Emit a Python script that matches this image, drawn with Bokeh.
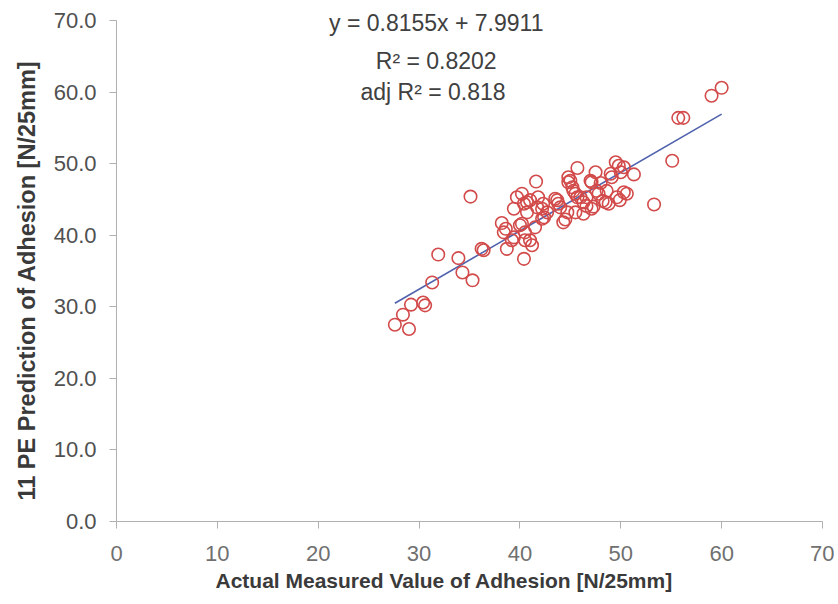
from bokeh.plotting import figure
from bokeh.models import Label, FixedTicker, NumeralTickFormatter, Range1d, Title
from bokeh.embed import file_html
from bokeh.resources import INLINE

# Data
measured = [27.6, 29.0, 28.4, 29.2, 30.4, 30.6, 31.3, 31.9, 33.9, 34.3, 35.3, 35.1,
            36.2, 36.4, 38.7, 38.2, 38.4, 39.4, 40.4, 40.5, 41.2, 41.5, 40.0, 39.4,
            40.2, 39.7, 40.7, 41.6, 41.7, 42.2, 42.4, 43.5, 43.8, 44.3, 44.5, 44.7,
            44.8, 45.0, 45.7, 45.2, 45.5, 45.7, 46.0, 46.3, 46.6, 45.5, 47.0, 47.5,
            47.1, 47.3, 47.8, 48.0, 48.6, 48.5, 49.0, 49.5, 49.8, 50.3, 50.0, 49.6,
            49.9, 50.6, 51.3, 53.3, 55.1, 55.7, 56.2, 59.0, 60.0,
            40.4, 41.0, 40.7, 41.8, 42.3, 42.7, 42.2, 44.0, 45.3, 46.6, 46.3, 47.6,
            48.2, 49.1, 50.3, 48.8, 38.6, 39.2, 40.2, 40.5, 41.0, 43.7, 44.8, 47.1]
predicted = [27.5, 26.9, 28.9, 30.3, 30.6, 30.2, 33.4, 37.3, 36.8, 34.8, 33.7, 45.4,
             38.1, 37.9, 38.1, 41.7, 40.4, 39.7, 36.7, 39.3, 38.6, 41.1, 41.4, 43.7,
             45.8, 45.3, 44.6, 47.5, 43.9, 43.7, 42.5, 45.1, 44.4, 41.8, 42.2, 43.2,
             48.1, 47.6, 49.4, 46.7, 45.8, 45.3, 45.3, 44.6, 44.1, 43.2, 47.6, 48.8,
             43.7, 44.0, 45.8, 47.3, 46.2, 44.6, 48.6, 50.2, 49.7, 49.5, 48.8, 45.3,
             44.9, 45.8, 48.5, 44.3, 50.4, 56.4, 56.4, 59.5, 60.6,
             44.4, 44.9, 43.2, 45.3, 44.4, 43.2, 42.3, 43.9, 46.2, 45.3, 43.0, 46.2,
             44.8, 48.1, 46.0, 44.4, 40.9, 39.3, 41.6, 40.4, 39.3, 44.9, 47.4, 47.4]

slope = 0.8155
intercept = 7.9911
eq_lines = ["y = 0.8155x + 7.9911", "R\u00b2 = 0.8202", "adj R\u00b2  = 0.818"]
x_ticks = [0, 10, 20, 30, 40, 50, 60, 70]
y_ticks = [0, 10, 20, 30, 40, 50, 60, 70]
x_label = "Actual Measured Value of Adhesion [N/25mm]"
y_label = "11 PE Prediction of Adhesion [N/25mm]"

p = figure(width=834, height=596, output_backend="svg", toolbar_location=None,
           x_range=Range1d(0, 70), y_range=Range1d(0, 72.8),
           min_border_left=116, min_border_right=12, min_border_top=0, min_border_bottom=75)
p.outline_line_color = None
p.grid.visible = False
p.background_fill_color = "white"

fit_x = [min(measured), max(measured)]
fit_y = [slope * v + intercept for v in fit_x]
p.line(fit_x, fit_y, line_color="#5062ad", line_width=1.6)

p.scatter(measured, predicted, marker="circle", size=12.5, fill_color=None,
          line_color="#d24a4a", line_width=1.6)

for ax in (p.xaxis[0], p.yaxis[0]):
    ax.axis_line_color = "#b0b0b0"
    ax.major_tick_line_color = "#b0b0b0"
    ax.major_tick_out = 7
    ax.major_tick_in = 0
    ax.minor_tick_line_color = None
    ax.major_label_text_font = "Liberation Sans"
    ax.major_label_text_font_size = "22px"

p.yaxis.bounds = (0, 70)
p.yaxis.major_label_text_color = "#505050"
p.xaxis.major_label_text_color = "#707070"
p.xaxis.ticker = FixedTicker(ticks=x_ticks)
p.yaxis.ticker = FixedTicker(ticks=y_ticks)
p.yaxis.formatter = NumeralTickFormatter(format="0.0")
p.xaxis.major_label_standoff = 17
p.yaxis.major_label_standoff = 13

p.add_layout(Title(text=x_label, align="left", offset=99, text_font="Liberation Sans",
                   text_font_style="bold", text_font_size="21px", text_color="#3a3a3a",
                   standoff=6), "below")
p.add_layout(Title(text=y_label, align="left", offset=21, text_font="Liberation Sans",
                   text_font_style="bold", text_font_size="23.5px", text_color="#3a3a3a",
                   standoff=22), "left")

eq_x = 31.7
eq_y = [69.6, 64.3, 60.0]
for t, yy in zip(eq_lines, eq_y):
    p.add_layout(Label(x=eq_x, y=yy, text=t, text_align="center", text_baseline="middle",
                       text_font="Liberation Sans", text_font_size="23px",
                       text_color="#404040"))

open("out.html", "w").write(file_html(p, INLINE))
